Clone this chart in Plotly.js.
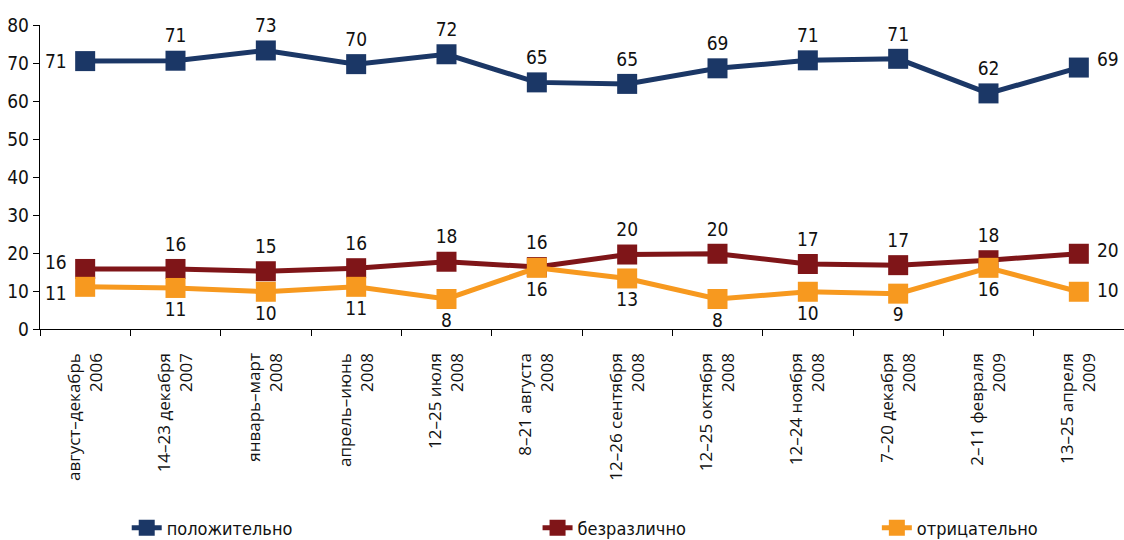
<!DOCTYPE html>
<html><head><meta charset="utf-8">
<script src="https://cdn.plot.ly/plotly-3.0.1.min.js"></script>
<style>body{margin:0;background:#fff}#c{width:1124px;height:540px}</style>
</head><body><div id="c"></div>
<script>
const categories = [
  "август–декабрь<br>2006","14–23 декабря<br>2007","январь–март<br>2008","апрель–июнь<br>2008",
  "12–25 июля<br>2008","8–21 августа<br>2008","12–26 сентября<br>2008","12–25 октября<br>2008",
  "12–24 ноября<br>2008","7–20 декабря<br>2008","2–11 февраля<br>2009","13–25 апреля<br>2009"
];
const positiveValues = [70.5, 70.6, 73.3, 69.7, 72.3, 64.9, 64.5, 68.6, 70.7, 71.1, 62.0, 68.8];
const positiveLabels = ["71","71","73","70","72","65","65","69","71","71","62","69"];
const neutralValues = [15.8, 15.8, 15.2, 16.0, 17.7, 16.3, 19.6, 19.8, 17.1, 16.8, 18.1, 19.8];
const neutralLabels = ["16","16","15","16","18","16","20","20","17","17","18","20"];
const negativeValues = [11.1, 10.8, 9.8, 11.1, 7.9, 16.1, 13.3, 7.9, 9.8, 9.3, 16.1, 9.8];
const negativeLabels = ["11","11","10","11","8","16","13","8","10","9","16","10"];
const seriesNames = ["положительно","безразлично","отрицательно"];

const numFamily = "DejaVu Sans Condensed, Liberation Sans Narrow, sans-serif";
const numFont = {family: numFamily, size: 19, color: "#111"};

function tr(vals, labels, name, color, mid, legend) {
  const n = vals.length;
  // end-point labels are drawn as annotations; inner ones as trace text
  const txt = labels.map((t, i) => (i === 0 || i === n - 1) ? "" : t);
  return {
    x: categories, y: vals, text: txt, name: name,
    type: "scatter", mode: "lines+markers+text",
    line: {color: color, width: 5},
    marker: {symbol: "square", size: 20, color: color},
    textposition: mid,
    textfont: numFont,
    cliponaxis: false,
    legend: legend,
    hoverinfo: "skip"
  };
}

const data = [
  tr(positiveValues, positiveLabels, seriesNames[0], "#1b3766", "top center", "legend"),
  tr(neutralValues, neutralLabels, seriesNames[1], "#7f1518", "top center", "legend2"),
  tr(negativeValues, negativeLabels, seriesNames[2], "#f7991f", "bottom center", "legend3")
];

function endAnn(vals, labels, idx, side, dy) {
  return {
    x: categories[idx], y: vals[idx], xref: "x", yref: "y",
    text: labels[idx], showarrow: false,
    xanchor: side === "left" ? "right" : "left", yanchor: "middle",
    xshift: side === "left" ? -16 : 16, yshift: dy,
    font: numFont
  };
}
const last = categories.length - 1;
const annotations = [
  endAnn(positiveValues, positiveLabels, 0, "left", 0),
  endAnn(positiveValues, positiveLabels, last, "right", 9),
  endAnn(neutralValues, neutralLabels, 0, "left", 7),
  endAnn(neutralValues, neutralLabels, last, "right", 4),
  endAnn(negativeValues, negativeLabels, 0, "left", -6),
  endAnn(negativeValues, negativeLabels, last, "right", 2)
];

const legFont = {family: numFamily, size: 18, color: "#111"};
function leg(x) {
  return {x: x, y: 0.022, xref: "paper", yref: "container", xanchor: "left", yanchor: "middle",
          orientation: "h", font: legFont, bgcolor: "rgba(0,0,0,0)"};
}

const layout = {
  width: 1124, height: 540,
  margin: {l: 40, r: 0, t: 25, b: 211, autoexpand: false},
  paper_bgcolor: "#fff", plot_bgcolor: "#fff",
  showlegend: true,
  annotations: annotations,
  xaxis: {
    type: "category", range: [-0.5, 11.5], automargin: false,
    showline: true, linecolor: "#000", linewidth: 1.3,
    ticks: "outside", tickson: "boundaries", ticklen: 6, tickcolor: "#000",
    tickangle: -90, showgrid: false, zeroline: false,
    ticklabelstandoff: 16,
    tickfont: {family: "Open Sans, sans-serif", size: 17, color: "#111"}
  },
  yaxis: {
    range: [0, 80], dtick: 10, automargin: false,
    showline: true, linecolor: "#000", linewidth: 1.3,
    ticks: "outside", ticklen: 6, tickcolor: "#000",
    showgrid: false, zeroline: false,
    tickfont: numFont
  },
  legend: leg(0.08),
  legend2: leg(0.459),
  legend3: leg(0.772)
};

Plotly.newPlot("c", data, layout, {displayModeBar: false, staticPlot: true});
</script>
</body></html>
